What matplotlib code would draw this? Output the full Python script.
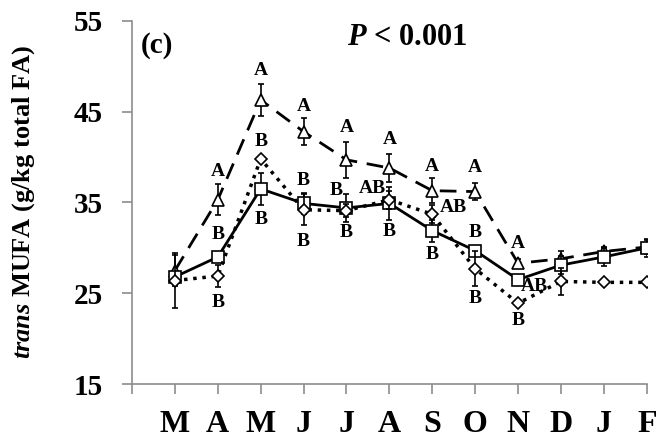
import matplotlib
matplotlib.use("Agg")
import matplotlib.pyplot as plt

plt.rcParams['font.family'] = ['Liberation Serif', 'DejaVu Serif']
plt.rcParams['font.weight'] = 'bold'
plt.rcParams['mathtext.fontset'] = 'custom'
plt.rcParams['mathtext.it'] = 'Liberation Serif:italic:bold'
plt.rcParams['mathtext.rm'] = 'Liberation Serif:bold'
plt.rcParams['mathtext.bf'] = 'Liberation Serif:bold'

months = ['M', 'A', 'M', 'J', 'J', 'A', 'S', 'O', 'N', 'D', 'J', 'F']

# triangle / dashed
tri = [27.5, 35.3, 46.3, 42.8, 39.7, 38.8, 36.3, 36.2, 28.3, 28.8, 29.6, 30.1]
tri_err = [1.7, 1.7, 1.8, 1.5, 2.0, 1.5, 1.4, 0.9, 0.5, 0.8, 0.5, 0.8]
# square / solid
sq = [26.8, 29.0, 36.5, 34.9, 34.4, 34.9, 31.9, 29.7, 26.5, 28.1, 29.0, 30.0]
sq_err = [0.5, 0.5, 1.8, 1.2, 1.5, 1.8, 1.2, 0.5, 0.5, 1.0, 1.0, 1.0]
# diamond / dotted
dia = [26.4, 26.9, 39.8, 34.2, 34.1, 35.3, 33.7, 27.7, 23.9, 26.3, 26.2, 26.2]
dia_err = [3.0, 1.2, 0.3, 1.7, 0.7, 1.0, 1.0, 1.9, 0.3, 1.5, 0.0, 0.0]

# significance letters: (month index, series, text)
letters = [
    (1, 'tri', 'A'), (2, 'tri', 'A'), (3, 'tri', 'A'), (4, 'tri', 'A'),
    (5, 'tri', 'A'), (6, 'tri', 'A'), (7, 'tri', 'A'), (8, 'tri', 'A'),
    (1, 'sq', 'B'), (1, 'dia', 'B'),
    (2, 'dia', 'B'), (2, 'sq', 'B'),
    (3, 'sq', 'B'), (3, 'dia', 'B'),
    (4, 'sq', 'B'), (4, 'dia', 'B'),
    (5, 'dia', 'AB'), (5, 'dia', 'B'),
    (6, 'dia', 'AB'), (6, 'sq', 'B'),
    (7, 'sq', 'B'), (7, 'dia', 'B'),
    (8, 'sq', 'AB'), (8, 'dia', 'B'),
]
# label offsets in pixels (dx, dy) from the marker
offsets = [
    (0, 28), (0, 29), (0, 25), (0, 32), (0, 28), (0, 24), (0, 24), (0, 20),
    (0, 22), (0, -26),
    (0, 17), (0, -31),
    (0, 23), (0, -32),
    (-10, 17), (0, -22),
    (-17, 11), (0, -32),
    (21, 7), (0, -24),
    (0, 18), (0, -30),
    (16, -7), (0, -17),
]

x = list(range(1, len(months) + 1))
series = {'tri': tri, 'sq': sq, 'dia': dia}

fig = plt.figure(figsize=(6.62, 4.46), dpi=100)
ax = fig.add_axes([0.1994, 0.139, 0.7776, 0.814])

ax.errorbar(x, tri, yerr=tri_err, color='black', lw=2, dashes=(6, 3.5),
            marker='^', ms=8, mfc='white', mec='black', mew=1.2,
            ecolor='black', elinewidth=1.2, capsize=2.5, capthick=1.2, zorder=3)
ax.errorbar(x, sq, yerr=sq_err, color='black', lw=2, ls='-',
            marker='s', ms=9, mfc='white', mec='black', mew=1.2,
            ecolor='black', elinewidth=1.2, capsize=2.5, capthick=1.2, zorder=4)
ax.errorbar(x, dia, yerr=dia_err, color='black', lw=2.5, ls=':',
            marker='D', ms=6.5, mfc='white', mec='black', mew=1.2,
            ecolor='black', elinewidth=1.2, capsize=2.5, capthick=1.2, zorder=5)

for (i, s, t), (dx, dy) in zip(letters, offsets):
    ax.annotate(t, xy=(i + 1, series[s][i]), xytext=(dx, dy),
                textcoords='offset pixels', ha='center', va='center',
                fontsize=14, fontweight='bold', zorder=6)

ax.set_xlim(0, 12)
ax.set_ylim(15, 55)
ax.set_yticks([15, 25, 35, 45, 55])
ax.set_xticks(range(0, 13))
ax.set_xticklabels([''] + months)

for sp in ['top', 'right']:
    ax.spines[sp].set_visible(False)
for sp in ['left', 'bottom']:
    ax.spines[sp].set_color('#8c8c8c')
    ax.spines[sp].set_linewidth(1.2)

ax.tick_params(axis='both', direction='out', length=7, width=1.2, color='#8c8c8c')
ax.tick_params(axis='y', labelsize=21, pad=14)
ax.tick_params(axis='x', labelsize=23, pad=12)
for lab in ax.get_xticklabels() + ax.get_yticklabels():
    lab.set_fontweight('bold')

ax.set_ylabel(r'$trans$ MUFA (g/kg total FA)', fontsize=19, fontweight='bold')
ax.yaxis.set_label_coords(-0.185, 0.5)

fig.text(0.213, 0.897, '(c)', fontsize=21, fontweight='bold', ha='left', va='center')
fig.text(0.615, 0.915, r'$P$ < 0.001', fontsize=22, fontweight='bold', ha='center', va='center')

fig.savefig('out.png', dpi=100)
